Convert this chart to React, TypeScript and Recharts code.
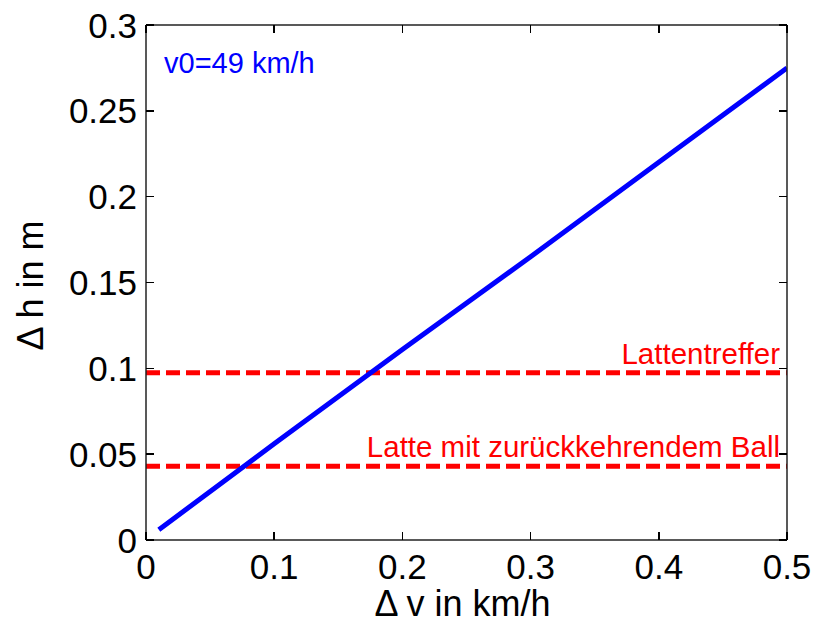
import React from "react"
import { LineChart, Line, XAxis, YAxis, ReferenceLine } from "recharts"

// blue curve: height difference vs speed difference
const dv = [0.01, 0.1, 0.2, 0.3, 0.4, 0.5]
const dh = [0.006, 0.056, 0.111, 0.165, 0.22, 0.275]

// red dashed thresholds
const thresholdValues = [0.0975, 0.043]
const thresholdNames = ["Lattentreffer", "Latte mit zurückkehrendem Ball"]

const xTicks = [0, 0.1, 0.2, 0.3, 0.4, 0.5]
const yTicks = [0, 0.05, 0.1, 0.15, 0.2, 0.25, 0.3]

const FONT = "'Liberation Sans', Arial, sans-serif"
const AXIS = "#222"
const TICK = 8

const data = dv.map((v, i) => ({ dv: v, dh: dh[i] }))

// MATLAB style: tick marks point inwards, labels sit outside
const BottomTick = ({ x, y, payload }: any) => (
  <g>
    <path d={`M${x},${y}V${y - TICK}`} stroke="#000" strokeWidth={1.5} shapeRendering="crispEdges" />
    <text x={x} y={y + 39} textAnchor="middle" fontSize={35} fontFamily={FONT} fill="#000">
      {payload.value}
    </text>
  </g>
)

const LeftTick = ({ x, y, payload }: any) => (
  <g>
    <path d={`M${x},${y}H${x + TICK}`} stroke="#000" strokeWidth={1.5} shapeRendering="crispEdges" />
    <text x={x - 9} y={y + 12.5} textAnchor="end" fontSize={35} fontFamily={FONT} fill="#000">
      {payload.value}
    </text>
  </g>
)

const TopTick = ({ x, y }: any) => (
  <path d={`M${x},${y}V${y + TICK}`} stroke="#000" strokeWidth={1.5} shapeRendering="crispEdges" />
)

const RightTick = ({ x, y }: any) => (
  <path d={`M${x},${y}H${x - TICK}`} stroke="#000" strokeWidth={1.5} shapeRendering="crispEdges" />
)

export default function App() {
  const axisLine = { stroke: AXIS, strokeWidth: 1.5 }

  return (
    <div style={{ position: "absolute", left: 0, top: 0, width: 817, height: 623, background: "#fff" }}>
      <LineChart
        width={817}
        height={623}
        data={data}
        margin={{ top: 5, right: 0, left: 0, bottom: 0 }}
      >
        <XAxis
          dataKey="dv"
          type="number"
          domain={[0, 0.5]}
          allowDataOverflow
          ticks={xTicks}
          interval={0}
          height={83}
          tick={<BottomTick />}
          tickLine={false}
          tickSize={0}
          tickMargin={0}
          axisLine={axisLine}
          label={{
            content: ({ viewBox }: any) => (
              <text
                x={viewBox.x + viewBox.width / 2 - 4}
                y={viewBox.y + 76}
                textAnchor="middle"
                fontSize={36}
                fontFamily={FONT}
                fill="#000"
              >
                Δ v in km/h
              </text>
            ),
          }}
        />
        <XAxis
          xAxisId="top"
          dataKey="dv"
          orientation="top"
          type="number"
          domain={[0, 0.5]}
          allowDataOverflow
          ticks={xTicks}
          interval={0}
          height={20}
          tick={<TopTick />}
          tickLine={false}
          tickSize={0}
          tickMargin={0}
          axisLine={axisLine}
        />
        <YAxis
          type="number"
          domain={[0, 0.3]}
          allowDataOverflow
          ticks={yTicks}
          interval={0}
          width={146}
          tick={<LeftTick />}
          tickLine={false}
          tickSize={0}
          tickMargin={0}
          axisLine={axisLine}
          label={{
            content: ({ viewBox }: any) => {
              const cx = viewBox.x + 30
              const cy = viewBox.y + viewBox.height / 2 + 3
              return (
                <text
                  x={cx}
                  y={cy}
                  textAnchor="middle"
                  dominantBaseline="central"
                  transform={`rotate(-90, ${cx}, ${cy})`}
                  fontSize={36}
                  fontFamily={FONT}
                  fill="#000"
                >
                  Δ h in m
                </text>
              )
            },
          }}
        />
        <YAxis
          yAxisId="right"
          orientation="right"
          type="number"
          domain={[0, 0.3]}
          allowDataOverflow
          ticks={yTicks}
          interval={0}
          width={30}
          tick={<RightTick />}
          tickLine={false}
          tickSize={0}
          tickMargin={0}
          axisLine={axisLine}
        />
        {thresholdValues.map((t, i) => (
          <ReferenceLine
            key={thresholdNames[i]}
            y={t}
            stroke="#ff0000"
            strokeWidth={5}
            strokeDasharray="14 6"
            label={{
              content: ({ viewBox }: any) => (
                <text
                  x={viewBox.x + viewBox.width - 7}
                  y={viewBox.y - 9}
                  textAnchor="end"
                  fontSize={29.5}
                  fontFamily={FONT}
                  fill="#ff0000"
                >
                  {thresholdNames[i]}
                </text>
              ),
            }}
          />
        ))}
        <Line
          type="linear"
          dataKey="dh"
          stroke="#0000ff"
          strokeWidth={5}
          dot={false}
          isAnimationActive={false}
        />
      </LineChart>
      <div
        style={{
          position: "absolute",
          left: 164,
          top: 49,
          color: "#0000ff",
          fontSize: 29,
          fontFamily: FONT,
          lineHeight: 1,
          whiteSpace: "nowrap",
        }}
      >
        v0=49 km/h
      </div>
    </div>
  )
}
